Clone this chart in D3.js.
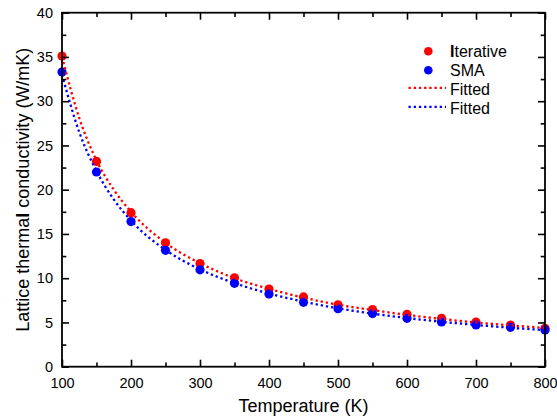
<!DOCTYPE html>
<html>
<head>
<meta charset="utf-8">
<script src="https://cdn.jsdelivr.net/npm/d3@7"></script>
<style>
  html, body { margin: 0; padding: 0; background: #fff; }
  svg { display: block; font-family: "Liberation Sans", Arial, sans-serif; }
</style>
</head>
<body>
<svg id="chart" width="557" height="420"></svg>
<script>
// Measured points (K, W/mK)
const temperatures = [100, 150, 200, 250, 300, 350, 400, 450, 500, 550, 600, 650, 700, 750, 800];
const iterativeValues = [35.1, 23.2, 17.4, 14.0, 11.65, 10.05, 8.78, 7.88, 7.0, 6.45, 5.92, 5.47, 5.05, 4.71, 4.34];
const smaValues = [33.3, 22.0, 16.4, 13.15, 10.95, 9.42, 8.21, 7.27, 6.55, 6.0, 5.47, 5.05, 4.71, 4.45, 4.15];

// Fitted curves, sampled along temperature
const fitTemperatures = [100, 125, 150, 175, 200, 250, 300, 350, 400, 450, 500, 550, 600, 650, 700, 750, 800];
const iterativeFit = [35.0, 28.1, 23.3, 20.0, 17.5, 14.0, 11.7, 10.0, 8.8, 7.8, 7.0, 6.4, 5.85, 5.4, 5.0, 4.67, 4.38];
const smaFit = [33.0, 26.5, 22.1, 18.9, 16.5, 13.2, 11.0, 9.45, 8.27, 7.35, 6.6, 6.0, 5.5, 5.08, 4.72, 4.4, 4.13];

// Axis ticks
const xMajorTicks = [100, 200, 300, 400, 500, 600, 700, 800];
const xMinorTicks = [150, 250, 350, 450, 550, 650, 750];
const yMajorTicks = [0, 5, 10, 15, 20, 25, 30, 35, 40];
const yMinorTicks = [2.5, 7.5, 12.5, 17.5, 22.5, 27.5, 32.5, 37.5];

const RED = "#ff0000";
const BLUE = "#0000ff";

const svg = d3.select("#chart");
const plot = { left: 62, right: 545, top: 12.7, bottom: 366.7 };

const x = d3.scaleLinear().domain([100, 800]).range([plot.left, plot.right]);
const y = d3.scaleLinear().domain([0, 40]).range([plot.bottom, plot.top]);

// Data markers
const markerSeries = [
  { values: iterativeValues, color: RED },
  { values: smaValues, color: BLUE }
];
markerSeries.forEach(s => {
  svg.append("g").selectAll("circle")
    .data(temperatures.map((t, i) => [t, s.values[i]]))
    .join("circle")
    .attr("cx", d => x(d[0]))
    .attr("cy", d => y(d[1]))
    .attr("r", 4.6)
    .attr("fill", s.color);
});

// Fitted curves (dotted)
const line = d3.line()
  .x(d => x(d[0]))
  .y(d => y(d[1]))
  .curve(d3.curveMonotoneX);
[{ values: iterativeFit, color: RED }, { values: smaFit, color: BLUE }].forEach(s => {
  svg.append("path")
    .datum(fitTemperatures.map((t, i) => [t, s.values[i]]))
    .attr("d", line)
    .attr("fill", "none")
    .attr("stroke", s.color)
    .attr("stroke-width", 2.3)
    .attr("stroke-dasharray", "2.3,2.9");
});

// Frame with inward ticks on all four sides
const axisColor = "#000";
const majorLen = 7, minorLen = 4.3;
const frame = svg.append("g");

const bottomAxis = d3.axisBottom(x).tickValues(xMajorTicks).tickSize(-majorLen).tickPadding(11).tickFormat(d3.format("d"));
const bottomMinor = d3.axisBottom(x).tickValues(xMinorTicks).tickSize(-minorLen).tickFormat("");
const topAxis = d3.axisTop(x).tickValues(xMajorTicks).tickSize(-majorLen).tickFormat("");
const topMinor = d3.axisTop(x).tickValues(xMinorTicks).tickSize(-minorLen).tickFormat("");
const leftAxis = d3.axisLeft(y).tickValues(yMajorTicks).tickSize(-majorLen).tickPadding(9).tickFormat(d3.format("d"));
const leftMinor = d3.axisLeft(y).tickValues(yMinorTicks).tickSize(-minorLen).tickFormat("");
const rightAxis = d3.axisRight(y).tickValues(yMajorTicks).tickSize(-majorLen).tickFormat("");
const rightMinor = d3.axisRight(y).tickValues(yMinorTicks).tickSize(-minorLen).tickFormat("");

function styleAxis(g) {
  g.select(".domain").remove();
  g.selectAll(".tick line").attr("stroke", axisColor).attr("stroke-width", 1.6);
  g.selectAll(".tick text").attr("fill", "#000").style("font-size", "14.5px")
    .style("font-family", "'Liberation Sans', Arial, sans-serif");
}

frame.append("g").attr("transform", `translate(0,${plot.bottom})`).call(bottomAxis).call(styleAxis);
frame.append("g").attr("transform", `translate(0,${plot.bottom})`).call(bottomMinor).call(styleAxis);
frame.append("g").attr("transform", `translate(0,${plot.top})`).call(topAxis).call(styleAxis);
frame.append("g").attr("transform", `translate(0,${plot.top})`).call(topMinor).call(styleAxis);
frame.append("g").attr("transform", `translate(${plot.left},0)`).call(leftAxis).call(styleAxis);
frame.append("g").attr("transform", `translate(${plot.left},0)`).call(leftMinor).call(styleAxis);
frame.append("g").attr("transform", `translate(${plot.right},0)`).call(rightAxis).call(styleAxis);
frame.append("g").attr("transform", `translate(${plot.right},0)`).call(rightMinor).call(styleAxis);

frame.append("rect")
  .attr("x", plot.left).attr("y", plot.top)
  .attr("width", plot.right - plot.left).attr("height", plot.bottom - plot.top)
  .attr("fill", "none").attr("stroke", axisColor).attr("stroke-width", 1.8);

// Axis titles
svg.append("text")
  .attr("x", (plot.left + plot.right) / 2)
  .attr("y", 412)
  .attr("text-anchor", "middle")
  .style("font-size", "18px")
  .text("Temperature (K)");

const yTitle = svg.append("text")
  .attr("transform", `translate(28.5,${(plot.top + plot.bottom) / 2}) rotate(-90)`)
  .attr("text-anchor", "middle")
  .style("font-size", "18px");
yTitle.append("tspan").text("Lattice therma");
yTitle.append("tspan").style("font-weight", "bold").text("l");
yTitle.append("tspan").text(" conductivity (W/mK)");

// Legend
const legend = svg.append("g");
const legendRows = [
  { type: "marker", color: RED, first: "I", rest: "terative" },
  { type: "marker", color: BLUE, first: "", rest: "SMA" },
  { type: "line", color: RED, first: "", rest: "Fitted" },
  { type: "line", color: BLUE, first: "", rest: "Fitted" }
];
legendRows.forEach((r, i) => {
  const cy = 51.3 + i * 19;
  if (r.type === "marker") {
    legend.append("circle").attr("cx", 428.3).attr("cy", cy).attr("r", 4.3).attr("fill", r.color);
  } else {
    legend.append("line")
      .attr("x1", 408.5).attr("x2", 446).attr("y1", cy - 1.5).attr("y2", cy - 1.5)
      .attr("stroke", r.color).attr("stroke-width", 2.3).attr("stroke-dasharray", "2.3,2.9");
  }
  const t = legend.append("text")
    .attr("x", 450)
    .attr("y", cy + 5.5)
    .style("font-size", "16px");
  if (r.first) t.append("tspan").style("font-weight", "bold").text(r.first);
  t.append("tspan").text(r.rest);
});
</script>
</body>
</html>
